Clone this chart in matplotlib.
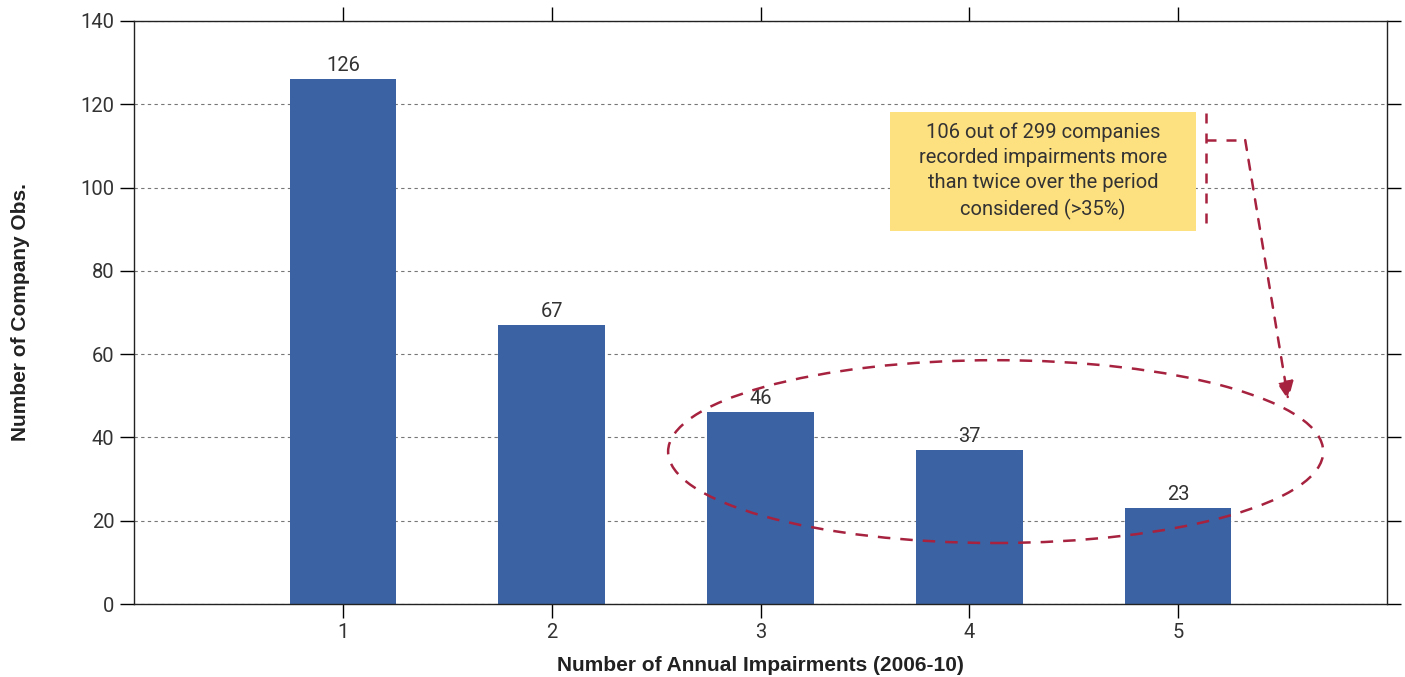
import matplotlib.pyplot as plt
from matplotlib.patches import Ellipse, Rectangle

impairments = [1, 2, 3, 4, 5]
company_obs = [126, 67, 46, 37, 23]
tick_labels = ["1", "2", "3", "4", "5"]
note = "106 out of 299 companies\nrecorded impairments more\nthan twice over the period\nconsidered (>35%)"

BAR = "#3b62a2"
RED = "#a6223f"
NOTE_BG = "#fde080"
TXT = "#333333"
BODY = dict(family="Roboto", weight="normal")

fig = plt.figure(figsize=(14.05, 6.77), dpi=100)
ax = fig.add_axes([0.0954, 0.1078, 0.8918, 0.8612])

ax.bar(impairments, company_obs, width=0.51, color=BAR, zorder=2)
for x, v in zip(impairments, company_obs):
    ax.annotate(str(v), (x, v), xytext=(0, 3), textcoords="offset points",
                ha="center", va="bottom", fontsize=14.5, color=TXT, **BODY)

ax.set_xlim(0, 6)
ax.set_ylim(0, 140)
ax.set_yticks(range(0, 141, 20))
ax.set_xticks(impairments)
ax.set_xticklabels(tick_labels)
ax.yaxis.grid(True, linestyle=(0, (3, 3)), color="#777777", linewidth=0.8, zorder=0)
ax.tick_params(axis="both", direction="out", length=10, width=1, labelsize=14.5,
               labelcolor=TXT, top=True, right=True, pad=4)
for lab in ax.get_xticklabels() + ax.get_yticklabels():
    lab.set_family("Roboto")
for s in ax.spines.values():
    s.set_color("#222222")
    s.set_linewidth(1)

ax.set_xlabel("Number of Annual Impairments (2006-10)", fontsize=15, fontweight="bold",
              family="Liberation Sans", color="#222222", labelpad=10)
ax.set_ylabel("Number of Company Obs.", fontsize=15, fontweight="bold",
              family="Liberation Sans", color="#222222", labelpad=36)

# dashed ring around bars 3-5
ax.add_patch(Ellipse((4.126, 36.6), 3.137, 43.9, fill=False, edgecolor=RED,
                     linestyle=(0, (5, 4)), linewidth=1.8, zorder=3))

# note box
ax.add_patch(Rectangle((3.62, 89.6), 1.466, 28.6, facecolor=NOTE_BG, edgecolor="none", zorder=3))
ax.text(4.353, 103.9, note, ha="center", va="center", fontsize=14.5, color=TXT,
        linespacing=1.4, zorder=4, **BODY)

# bracket and arrow from note to ring
ax.plot([5.134, 5.134], [91.4, 118.2], color=RED, linestyle=(0, (4, 4)), linewidth=1.8, zorder=3)
ax.plot([5.134, 5.321], [111.4, 111.4], color=RED, linestyle=(0, (4, 4)), linewidth=1.8, zorder=3)
ax.annotate("", xy=(5.527, 49.0), xytext=(5.321, 111.4),
            arrowprops=dict(arrowstyle="-|>,head_length=1.1,head_width=0.5", color=RED,
                            linestyle=(0, (4, 4)), linewidth=1.8, shrinkA=0, shrinkB=0),
            zorder=3)

fig.savefig("out.png", dpi=100)
